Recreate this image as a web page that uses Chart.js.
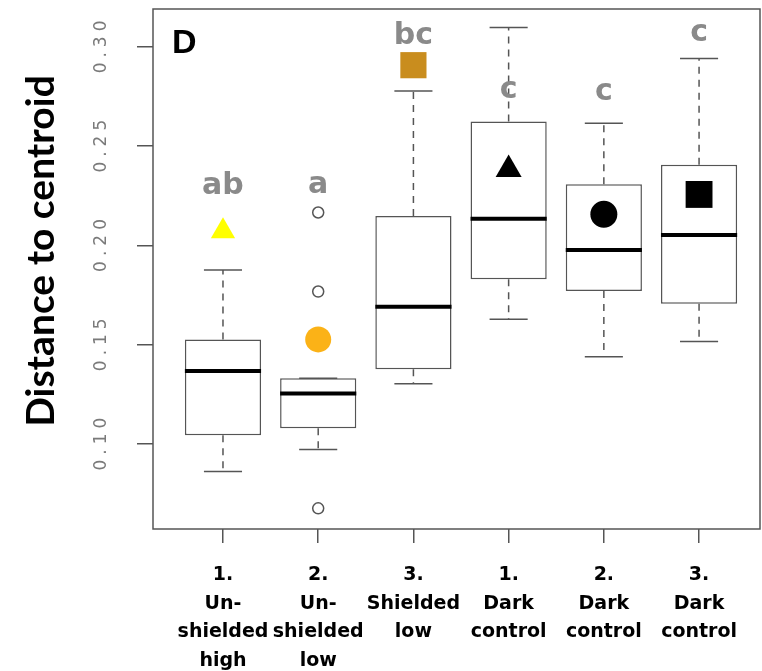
<!DOCTYPE html>
<html>
<head>
<meta charset="utf-8">
<script src="https://cdn.jsdelivr.net/npm/chart.js@4.4.0/dist/chart.umd.min.js"></script>
<style>
  html, body { margin: 0; padding: 0; background: #fff; }
  #wrap { width: 762px; height: 671px; }
</style>
</head>
<body>
<div id="wrap"><canvas id="centroid-chart" width="762" height="671"></canvas></div>
<script>
// groups (x axis), one label line per entry
const groupLabels = [
  ['1.', 'Un-', 'shielded', 'high'],
  ['2.', 'Un-', 'shielded', 'low'],
  ['3.', 'Shielded', 'low'],
  ['1.', 'Dark', 'control'],
  ['2.', 'Dark', 'control'],
  ['3.', 'Dark', 'control'],
];

// box plot statistics
const whiskerLow = [0.0861, 0.0973, 0.1304, 0.1628, 0.1440, 0.1516];
const lowerQuartile = [0.1044, 0.1079, 0.1376, 0.1830, 0.1771, 0.1707];
const medians = [0.1368, 0.1254, 0.1692, 0.2135, 0.1977, 0.2053];
const upperQuartile = [0.1527, 0.1331, 0.2149, 0.2624, 0.2308, 0.2406];
const whiskerHigh = [0.1877, 0.1331, 0.2778, 0.3098, 0.2616, 0.2942];
const outliers = [[], [0.2166, 0.1768, 0.0676], [], [], [], []];

// group means (coloured markers)
const means = [0.2072, 0.1527, 0.2908, 0.2383, 0.2157, 0.2257];

// significance letters
const letters = ['ab', 'a', 'bc', 'c', 'c', 'c'];
const letterValues = [0.2260, 0.2265, 0.3014, 0.2742, 0.2731, 0.3029];

const yTickValues = [0.10, 0.15, 0.20, 0.25, 0.30];

const LINE_COLOR = '#555555';
const LETTER_COLOR = '#8a8a8a';
const TICK_LABEL_COLOR = '#7a7a7a';
const meanStyles = ['triangle', 'circle', 'rect', 'triangle', 'circle', 'rect'];
const meanColors = ['#ffff00', '#fbb217', '#c98d1e', '#000000', '#000000', '#000000'];
const meanSizes = [14, 13, 18.5, 15, 13.5, 19];

const BOX_HALF = 0.4;
const CAP_HALF = 0.2;

function buildBoxData() {
  return lowerQuartile.map((lo, i) => ({ x: i + 1, y: [lo, upperQuartile[i]] }));
}

function buildMeanData() {
  return means.map((m, i) => ({ x: i + 1, y: m }));
}

function buildOutlierData() {
  const points = [];
  outliers.forEach((list, i) => {
    list.forEach((v) => points.push({ x: i + 1, y: v }));
  });
  return points;
}

function strokeLine(ctx, x1, y1, x2, y2) {
  ctx.beginPath();
  ctx.moveTo(x1, y1);
  ctx.lineTo(x2, y2);
  ctx.stroke();
}

const boxPlotExtras = {
  id: 'boxPlotExtras',
  afterDatasetDraw(chart, args) {
    if (args.index !== 0) return;
    const { ctx } = chart;
    const { x, y } = chart.scales;

    ctx.save();
    medians.forEach((med, i) => {
      const g = i + 1;
      const cx = x.getPixelForValue(g);
      const capL = x.getPixelForValue(g - CAP_HALF);
      const capR = x.getPixelForValue(g + CAP_HALF);
      const boxL = x.getPixelForValue(g - BOX_HALF);
      const boxR = x.getPixelForValue(g + BOX_HALF);

      ctx.strokeStyle = LINE_COLOR;
      ctx.lineWidth = 1.5;
      ctx.setLineDash([7, 6]);
      strokeLine(ctx, cx, y.getPixelForValue(upperQuartile[i]), cx, y.getPixelForValue(whiskerHigh[i]));
      strokeLine(ctx, cx, y.getPixelForValue(lowerQuartile[i]), cx, y.getPixelForValue(whiskerLow[i]));
      ctx.setLineDash([]);
      strokeLine(ctx, capL, y.getPixelForValue(whiskerHigh[i]), capR, y.getPixelForValue(whiskerHigh[i]));
      strokeLine(ctx, capL, y.getPixelForValue(whiskerLow[i]), capR, y.getPixelForValue(whiskerLow[i]));

      ctx.strokeStyle = '#000000';
      ctx.lineWidth = 4;
      strokeLine(ctx, boxL, y.getPixelForValue(med), boxR, y.getPixelForValue(med));
    });
    ctx.restore();
  },
  afterDraw(chart) {
    const { ctx, chartArea } = chart;
    const { x, y } = chart.scales;

    ctx.save();
    // plot frame
    ctx.strokeStyle = LINE_COLOR;
    ctx.lineWidth = 1.5;
    ctx.strokeRect(chartArea.left, chartArea.top,
      chartArea.right - chartArea.left, chartArea.bottom - chartArea.top);

    // rotated y tick labels
    ctx.fillStyle = TICK_LABEL_COLOR;
    ctx.font = '17px "DejaVu Sans"';
    ctx.textAlign = 'center';
    ctx.textBaseline = 'middle';
    if ('letterSpacing' in ctx) ctx.letterSpacing = '5px';
    y.ticks.forEach((t) => {
      ctx.save();
      ctx.translate(chartArea.left - 51, y.getPixelForValue(t.value));
      ctx.rotate(-Math.PI / 2);
      ctx.fillText(t.value.toFixed(2), 2.5, 0);
      ctx.restore();
    });
    if ('letterSpacing' in ctx) ctx.letterSpacing = '0px';

    // y axis title
    ctx.save();
    ctx.fillStyle = '#000000';
    ctx.font = 'bold 39px Lato';
    ctx.textAlign = 'center';
    ctx.textBaseline = 'middle';
    ctx.translate(41, 251);
    ctx.rotate(-Math.PI / 2);
    ctx.fillText('Distance to centroid', 0, 0);
    ctx.restore();

    // panel letter
    ctx.fillStyle = '#000000';
    ctx.font = 'bold 34px "Liberation Sans"';
    ctx.textAlign = 'left';
    ctx.textBaseline = 'alphabetic';
    ctx.fillText('D', chartArea.left + 19, chartArea.top + 44);

    // significance letters
    ctx.fillStyle = LETTER_COLOR;
    ctx.font = 'bold 30px "DejaVu Sans"';
    ctx.textAlign = 'center';
    letters.forEach((txt, i) => {
      ctx.fillText(txt, x.getPixelForValue(i + 1), y.getPixelForValue(letterValues[i]));
    });
    ctx.restore();
  },
};

function createChart() {
  const ctx = document.getElementById('centroid-chart').getContext('2d');

  return new Chart(ctx, {
    type: 'bar',
    data: {
      datasets: [
        {
          type: 'bar',
          data: buildBoxData(),
          backgroundColor: '#ffffff',
          borderColor: LINE_COLOR,
          borderWidth: 1.5,
          borderSkipped: false,
          categoryPercentage: 1,
          barPercentage: 0.8,
          order: 3,
        },
        {
          type: 'scatter',
          data: buildOutlierData(),
          pointStyle: 'circle',
          pointRadius: 5.5,
          pointBackgroundColor: '#ffffff',
          pointBorderColor: LINE_COLOR,
          pointBorderWidth: 1.5,
          order: 2,
        },
        {
          type: 'scatter',
          data: buildMeanData(),
          pointStyle: meanStyles,
          pointRadius: meanSizes,
          pointBackgroundColor: meanColors,
          pointBorderWidth: 0,
          order: 1,
        },
      ],
    },
    options: {
      responsive: false,
      animation: false,
      layout: { autoPadding: false, padding: { left: 0, top: 9, right: 2, bottom: 0 } },
      plugins: {
        legend: { display: false },
        tooltip: { enabled: false },
      },
      scales: {
        x: {
          type: 'linear',
          offset: false,
          min: 0.265,
          max: 6.64,
          border: { display: false },
          grid: {
            display: true,
            offset: false,
            drawOnChartArea: false,
            drawTicks: true,
            tickLength: 14,
            color: LINE_COLOR,
            lineWidth: 1.5,
          },
          afterBuildTicks: (scale) => {
            scale.ticks = groupLabels.map((_, i) => ({ value: i + 1 }));
          },
          afterFit: (scale) => {
            scale.height = 142;
            scale.paddingLeft = 0;
            scale.paddingRight = 0;
          },
          ticks: {
            autoSkip: false,
            maxRotation: 0,
            minRotation: 0,
            padding: 18,
            color: '#000000',
            font: { family: 'DejaVu Sans', weight: 'bold', size: 19, lineHeight: 1.5 },
            callback: (value) => groupLabels[value - 1],
          },
        },
        y: {
          type: 'linear',
          min: 0.0572,
          max: 0.3191,
          border: { display: false },
          grid: {
            display: true,
            drawOnChartArea: false,
            drawTicks: true,
            tickLength: 16,
            color: LINE_COLOR,
            lineWidth: 1.5,
          },
          afterBuildTicks: (scale) => {
            scale.ticks = yTickValues.map((v) => ({ value: v }));
          },
          afterFit: (scale) => {
            scale.width = 153;
            scale.paddingTop = 0;
            scale.paddingBottom = 0;
          },
          ticks: { display: false },
        },
      },
    },
    plugins: [boxPlotExtras],
  });
}

createChart();
</script>
</body>
</html>
